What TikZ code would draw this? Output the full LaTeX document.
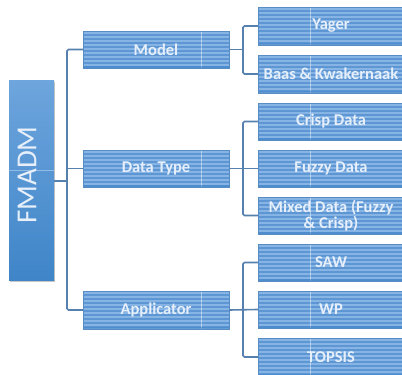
\documentclass[tikz,border=0pt]{standalone}
\usepackage{fontspec}
\setmainfont{Carlito}
\usetikzlibrary{calc}
\definecolor{boxbase}{HTML}{5D96D3}
\definecolor{stripeL}{HTML}{86B5E5}
\definecolor{boxedge}{HTML}{5A8CC4}
\definecolor{txtc}{HTML}{E6EFFA}
\definecolor{linec}{HTML}{5680AE}
\definecolor{fmtop}{HTML}{6EA5DD}
\definecolor{fmbot}{HTML}{3F85C8}
\tikzset{
  stripebox/.style={draw=boxedge, line width=0.4pt, fill=boxbase,
    minimum width=146pt, minimum height=37.5pt, inner sep=0pt,
    text=txtc, font=\fontsize{16.5}{13}\selectfont\bfseries, align=center,
    path picture={
      \foreach \k in {0,...,10}{
        \fill[stripeL] ([yshift=-\k*4pt-1pt]path picture bounding box.north west) rectangle ++(160pt,-2pt);}
      \draw[white, opacity=0.45, line width=0.5pt] ([xshift=#1]path picture bounding box.north west) -- ([xshift=#1]path picture bounding box.south west);
      \fill[fmbot, opacity=0.5] (path picture bounding box.south west) rectangle ([yshift=2pt]path picture bounding box.south east);
    }},
  lvone/.style={stripebox=118pt},
  lvtwo/.style={stripebox=52pt},
  conn/.style={draw=linec, line width=1.6pt, rounded corners=1.5pt},
}
\begin{document}
\begin{tikzpicture}[x=1pt,y=-1pt]
\useasboundingbox (0,0) rectangle (402,375);
\fill[white] (0,0) rectangle (402,375);
% FMADM
\fill[gray!45] (10,82) rectangle (55,282);
\node[top color=fmtop, bottom color=fmbot, minimum width=45pt, minimum height=200pt, inner sep=0pt] (fm) at (31.5,180) {};
\draw[white, opacity=0.35, line width=0.5pt] (fm.west |- 0,170) -- (fm.east |- 0,170);
\node[rotate=90, text=txtc, font=\fontsize{29}{30}\selectfont] (fmt) at (27,175) {FMADM};
% level 1
\node[lvone] (model) at (156,49.5) {Model};
\node[lvone] (dt) at (156,168.5) {Data Type};
\node[lvone] (app) at (156,310) {Applicator};
% level 2
\node[lvtwo] (yager) at (331,26) {Yager};
\node[lvtwo] (baas) at (331,74) {Baas \& Kwakernaak};
\node[lvtwo] (crisp) at (331,121.5) {Crisp Data};
\node[lvtwo] (fuzzy) at (331,168.5) {Fuzzy Data};
\node[lvtwo] (mixed) at (331,215.5) {Mixed Data (Fuzzy\\\& Crisp)};
\node[lvtwo] (saw) at (331,262.5) {SAW};
\node[lvtwo] (wp) at (331,309.5) {WP};
\node[lvtwo] (topsis) at (331,357) {TOPSIS};
% connectors
\coordinate (t) at (67,181);
\coordinate (m) at (243,49.5);
\coordinate (d) at (243,168.5);
\coordinate (a) at (243,309.5);
\draw[conn] (fm.east |- t) -- (t);
\draw[conn] (model.west) -| (t) |- (app.west);
\draw[conn] (dt.west) -- (dt.west -| t);
\draw[conn] (model.east) -- (m);
\draw[conn] (yager.west) -| (m) |- (baas.west);
\draw[conn] (dt.east) -- (fuzzy.west);
\draw[conn] (crisp.west) -| (d) |- (mixed.west);
\draw[conn] (app.east) -- (wp.west);
\draw[conn] (saw.west) -| (a) |- (topsis.west);
\end{tikzpicture}
\end{document}
